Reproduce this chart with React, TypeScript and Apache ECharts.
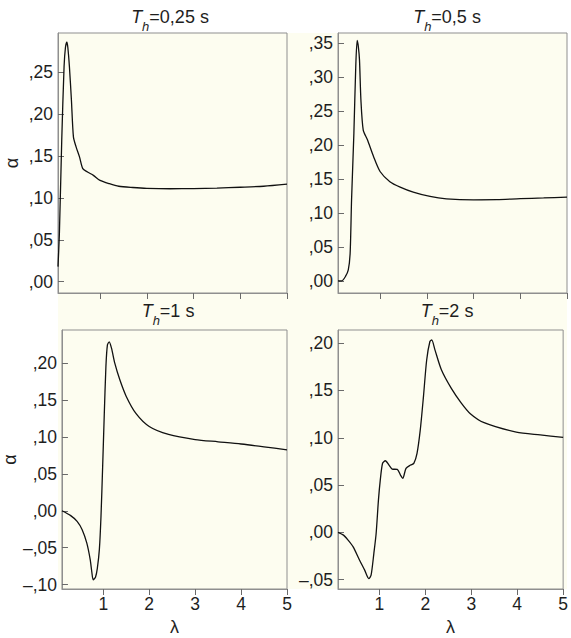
import React, { useEffect, useRef } from "react";
import * as echarts from "echarts";

// ---- data ----
const x025 = [0.1, 0.13, 0.18, 0.23, 0.26, 0.29, 0.31, 0.344, 0.387, 0.43, 0.487, 0.56, 0.63, 0.73, 0.857, 1.0, 1.2, 1.4, 1.7, 2.0, 2.5, 3.0, 3.5, 4.0, 4.5, 5.0];
const y025 = [0.018, 0.058, 0.169, 0.257, 0.28, 0.286, 0.28, 0.257, 0.217, 0.173, 0.161, 0.149, 0.135, 0.131, 0.127, 0.121, 0.117, 0.114, 0.1125, 0.1115, 0.111, 0.1112, 0.1118, 0.1128, 0.114, 0.1165];

const x05 = [0.1, 0.18, 0.26, 0.32, 0.36, 0.39, 0.44, 0.48, 0.51, 0.535, 0.56, 0.59, 0.64, 0.73, 0.86, 1.0, 1.21, 1.43, 1.71, 2.07, 2.42, 3.0, 3.5, 4.0, 4.5, 5.0];
const y05 = [0.0, 0.0, 0.0064, 0.016, 0.041, 0.119, 0.2175, 0.3156, 0.354, 0.345, 0.325, 0.2666, 0.222, 0.2076, 0.183, 0.161, 0.146, 0.138, 0.1306, 0.1242, 0.1208, 0.1193, 0.1195, 0.121, 0.122, 0.1233];

const x1 = [0.1, 0.29, 0.43, 0.54, 0.64, 0.715, 0.75, 0.78, 0.83, 0.87, 0.915, 0.95, 0.986, 1.02, 1.057, 1.09, 1.13, 1.18, 1.25, 1.36, 1.5, 1.71, 2.0, 2.42, 3.0, 3.5, 4.0, 4.5, 5.0];
const y1 = [0.0, -0.0066, -0.0143, -0.0256, -0.0436, -0.0662, -0.083, -0.0935, -0.09, -0.078, -0.052, -0.0075, 0.06, 0.128, 0.1955, 0.2248, 0.229, 0.22, 0.2, 0.1775, 0.155, 0.132, 0.1143, 0.1035, 0.0965, 0.0935, 0.0905, 0.0867, 0.0825];

const x2 = [0.1, 0.22, 0.32, 0.43, 0.57, 0.68, 0.77, 0.82, 0.88, 0.93, 0.98, 1.02, 1.07, 1.13, 1.21, 1.28, 1.39, 1.46, 1.51, 1.58, 1.68, 1.75, 1.82, 1.89, 1.96, 2.03, 2.1, 2.14, 2.21, 2.35, 2.57, 2.78, 2.98, 3.28, 3.98, 4.5, 5.0];
const y2 = [0.0, -0.003, -0.0083, -0.0154, -0.0295, -0.04, -0.049, -0.0454, -0.0225, -0.0013, 0.034, 0.0552, 0.073, 0.0757, 0.0711, 0.0669, 0.0665, 0.0605, 0.057, 0.0676, 0.0711, 0.0729, 0.0835, 0.108, 0.1435, 0.1823, 0.2018, 0.2035, 0.193, 0.172, 0.152, 0.137, 0.1255, 0.116, 0.106, 0.103, 0.1004];

const xTicks = [1, 2, 3, 4, 5];
const yTicks025 = [0, 0.05, 0.1, 0.15, 0.2, 0.25];
const yTicks05 = [0, 0.05, 0.1, 0.15, 0.2, 0.25, 0.3, 0.35];
const yTicks1 = [-0.1, -0.05, 0, 0.05, 0.1, 0.15, 0.2];
const yTicks2 = [-0.05, 0, 0.05, 0.1, 0.15, 0.2];

const titles = ["=0,25 s", "=0,5 s", "=1 s", "=2 s"];

const FONT = "Liberation Sans";
const TEXT = "#1e1e1e";
const AXIS = "#8f8f8f";
const TICK = "#6a6a6a";
const CREAM = "#fdfdf0";

function pairs(xs: number[], ys: number[]) {
  return xs.map((x, i) => [x, ys[i]]);
}

function yFmt(v: number) {
  const a = Math.round(Math.abs(v) * 100);
  return (v < -1e-9 ? "\u2013" : "") + "," + String(a).padStart(2, "0");
}

export default function App() {
  const ref = useRef<HTMLDivElement>(null);

  useEffect(() => {
    if (!ref.current) return;
    const chart = echarts.init(ref.current, null, { renderer: "svg" });

    const grids = [
      { left: 58, top: 33, width: 229, height: 260 },
      { left: 338, top: 33, width: 229, height: 260 },
      { left: 58, top: 330, width: 229, height: 259 },
      { left: 338, top: 330, width: 229, height: 259 },
    ];
    const yRanges = [
      [-0.0135, 0.297],
      [-0.018, 0.365],
      [-0.106, 0.245],
      [-0.06, 0.214],
    ];
    const yTickSets = [yTicks025, yTicks05, yTicks1, yTicks2];
    const datasets = [pairs(x025, y025), pairs(x05, y05), pairs(x1, y1), pairs(x2, y2)];
    const titleX = [170, 447, 168, 447];
    const titleTop = [8, 8, 302, 302];

    const option: any = {
      animation: false,
      backgroundColor: "#ffffff",
      graphic: [
        {
          type: "rect",
          z: -10,
          silent: true,
          shape: { x: 58, y: 33, width: 509, height: 556 },
          style: { fill: CREAM },
        },
      ],
      title: titles.map((t, i) => ({
        text: "{t|T}{h|h}{n|" + t + "}",
        left: titleX[i],
        top: titleTop[i],
        textAlign: "center",
        padding: 0,
        textStyle: {
          fontFamily: FONT,
          fontWeight: "normal",
          color: TEXT,
          rich: {
            t: { fontFamily: FONT, fontSize: 18, fontStyle: "italic", color: TEXT, lineHeight: 22, verticalAlign: "top" },
            h: { fontFamily: FONT, fontSize: 13, fontStyle: "italic", color: TEXT, lineHeight: 14, padding: [12, 0, 0, 0], verticalAlign: "top" },
            n: { fontFamily: FONT, fontSize: 18, color: TEXT, lineHeight: 22, verticalAlign: "top" },
          },
        },
      })),
      grid: grids.map((g) => ({
        ...g,
        show: true,
        borderColor: AXIS,
        borderWidth: 1,
        backgroundColor: "transparent",
      })),
      xAxis: grids.map((_, i) => ({
        type: "value",
        gridIndex: i,
        min: 0.1,
        max: 5,
        name: i >= 2 ? "\u03bb" : "",
        nameLocation: "middle",
        nameGap: 29,
        nameTextStyle: { fontFamily: FONT, fontSize: 18, color: TEXT },
        axisLine: { show: true, onZero: false, lineStyle: { color: AXIS, width: 1 } },
        axisTick: { show: true, inside: false, length: 6, customValues: xTicks, lineStyle: { color: TICK } },
        axisLabel: {
          show: i >= 2,
          customValues: xTicks,
          margin: 6,
          fontFamily: FONT,
          fontSize: 17.5,
          color: TEXT,
          formatter: (v: number) => String(v),
        },
        splitLine: { show: false },
      })),
      yAxis: grids.map((_, i) => ({
        type: "value",
        gridIndex: i,
        min: yRanges[i][0],
        max: yRanges[i][1],
        name: i % 2 === 0 ? "\u03b1" : "",
        nameLocation: "middle",
        nameRotate: 90,
        nameGap: 37,
        nameTextStyle: { fontFamily: FONT, fontSize: 18, color: TEXT },
        axisLine: { show: true, onZero: false, lineStyle: { color: AXIS, width: 1 } },
        axisTick: { show: true, inside: true, length: 6, customValues: yTickSets[i], lineStyle: { color: TICK } },
        axisLabel: {
          customValues: yTickSets[i],
          margin: 5,
          fontFamily: FONT,
          fontSize: 17.5,
          color: TEXT,
          formatter: yFmt,
        },
        splitLine: { show: false },
      })),
      series: datasets.map((d, i) => ({
        type: "line",
        xAxisIndex: i,
        yAxisIndex: i,
        data: d,
        showSymbol: false,
        smooth: 0.25,
        lineStyle: { color: "#111111", width: 1.3 },
        z: 3,
      })),
    };

    chart.setOption(option);
    return () => chart.dispose();
  }, []);

  return (
    <div
      ref={ref}
      style={{ position: "absolute", left: 0, top: 0, width: 571, height: 638, background: "#ffffff" }}
    />
  );
}
